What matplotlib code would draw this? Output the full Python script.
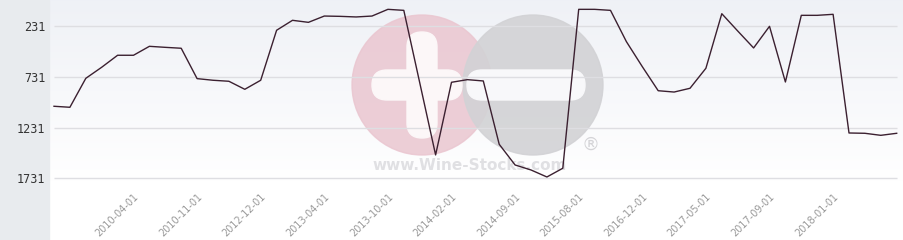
import matplotlib
matplotlib.use('Agg')
import matplotlib.pyplot as plt
import numpy as np
from matplotlib.patches import Circle, FancyBboxPatch

# Ранг вина по месяцам (меньше = лучше)
rank = [1021, 1031, 746, 637, 519, 519, 431, 441, 450, 749,
        765, 775, 854, 765, 273, 175, 195, 133, 136, 142,
        133, 67, 77, 788, 1500, 785, 759, 772, 1395, 1599,
        1648, 1717, 1631, 67, 67, 77, 385, 631, 868, 881,
        844, 647, 110, 280, 447, 234, 782, 126, 126, 116,
        1284, 1287, 1307, 1287]
tick_labels = ['2010-04-01', '2010-11-01', '2012-12-01', '2013-04-01',
               '2013-10-01', '2014-02-01', '2014-09-01', '2015-08-01',
               '2016-12-01', '2017-05-01', '2017-09-01', '2018-01-01']
y_ticks = [231, 731, 1231, 1731]

W, H = 904, 240
fig = plt.figure(figsize=(W / 100, H / 100), dpi=100)

# Фон: серая панель слева и градиент справа
bg = fig.add_axes([0, 0, 1, 1])
bg.set_xlim(0, W)
bg.set_ylim(H, 0)
bg.axis('off')
grad = np.linspace(0, 1, 200).reshape(-1, 1)
top = np.array([0.937, 0.945, 0.965])
bot = np.array([1.0, 1.0, 1.0])
img = top + (bot - top) * np.clip(grad * 1.1, 0, 1)[..., None]
img = np.repeat(img, 2, axis=1)
bg.imshow(img, extent=[50, W, 200, 0], aspect='auto', zorder=0)
bg.add_patch(plt.Rectangle((50, 200), W - 50, 40, color='white', zorder=0))
bg.add_patch(plt.Rectangle((0, 0), 49, H, color='#e8ebee', zorder=1))

# Водяной знак
bg.add_patch(Circle((422, 85), 70, color='#eac6d0', alpha=0.85, zorder=2))
bg.add_patch(Circle((533, 85), 70, color='#d2d2d5', alpha=0.9, zorder=2))
bg.add_patch(FancyBboxPatch((372, 70), 90, 30, boxstyle='round,pad=0,rounding_size=15',
                            color='#fcf7f8', zorder=3))
bg.add_patch(FancyBboxPatch((407, 32), 30, 106, boxstyle='round,pad=0,rounding_size=15',
                            color='#fcf7f8', zorder=3))
bg.add_patch(FancyBboxPatch((467, 70), 118, 30, boxstyle='round,pad=0,rounding_size=15',
                            color='#f8f8fa', zorder=3))
bg.text(470, 166, 'www.Wine-Stocks.com', ha='center', va='center', fontsize=11,
        fontweight='bold', color='#e0e0e3', zorder=3)
bg.text(591, 145, '®', ha='center', va='center', fontsize=13, color='#d4d4d7', zorder=3)

# Основной график
x0, dx = 54, 15.9
px_per_rank = 50.8 / 500
y_top = 231 - 26 / px_per_rank
y_bot = 231 + (183 - 26) / px_per_rank
ax = fig.add_axes([49 / W, 1 - 183 / H, (W - 49) / W, 183 / H])
ax.patch.set_alpha(0)
ax.set_xlim((49 - x0) / dx, (W - x0) / dx)
ax.set_ylim(y_bot, y_top)

n = len(rank)
ax.hlines(y_ticks, 0, n - 1, colors='#dedee2', linewidth=1, zorder=1)
ax.plot(range(n), rank, color='#3b2030', linewidth=1, zorder=3)

ax.set_yticks(y_ticks)
ax.set_yticklabels([str(v) for v in y_ticks], family='DejaVu Sans Mono',
                   fontsize=8.5, color='#333333')
ax.set_xticks(range(5, 5 + 4 * len(tick_labels), 4))
ax.set_xticklabels(tick_labels, rotation=45, ha='right', rotation_mode='anchor',
                   fontsize=7, color='#999999')
ax.tick_params(length=0, axis='both')
ax.tick_params(axis='y', pad=2.5)
ax.tick_params(axis='x', pad=6)
for s in ax.spines.values():
    s.set_visible(False)

plt.savefig('out.png', dpi=100)
